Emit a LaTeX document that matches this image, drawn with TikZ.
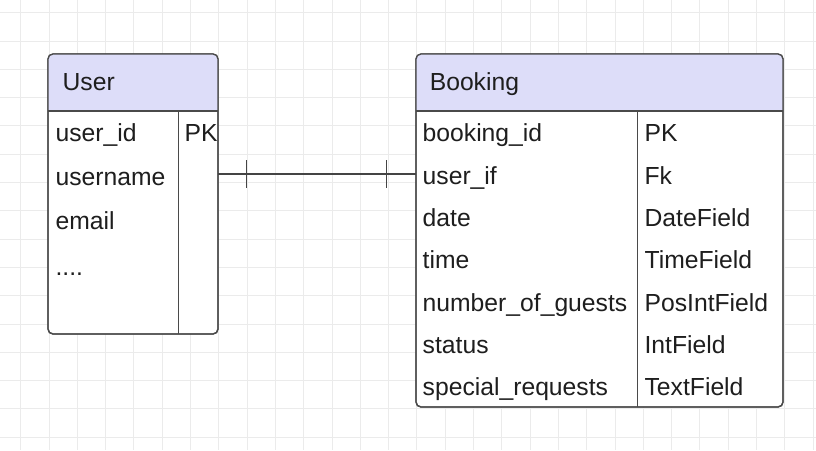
\documentclass[tikz,border=0pt]{standalone}
\usepackage{fontspec}
\setmainfont{Liberation Sans}
\definecolor{gridc}{HTML}{EBEBEB}
\definecolor{bordc}{HTML}{4A4A4A}
\definecolor{hdrc}{HTML}{DDDDF9}
\definecolor{txtc}{HTML}{1E1E1E}
\definecolor{linec}{HTML}{444444}
\begin{document}
\begin{tikzpicture}[x=1pt,y=-1pt,
  gridline/.style={draw=gridc,line width=1pt},
  tablebox/.style={rectangle,rounded corners=5pt,draw=bordc,line width=1.3pt,fill=white,inner sep=0pt,outer sep=0pt},
  bord/.style={draw=bordc,line width=1.3pt},
  txt/.style={anchor=base west,inner sep=0pt,outer sep=0pt,text=txtc,font=\fontsize{24.7}{28}\selectfont},
  rel/.style={draw=linec,line width=1.3pt}]
\useasboundingbox (0,0) rectangle (816,450);
\fill[white] (0,0) rectangle (816,450);
\foreach \i in {0,...,28} \draw[gridline] (20.7+28.3*\i,0) -- (20.7+28.3*\i,450);
\foreach \i in {0,...,15} \draw[gridline] (0,12.7+28.3*\i) -- (816,12.7+28.3*\i);

% User table
\node[tablebox,minimum width=170pt,minimum height=280pt] (user) at (133,194) {};
\begin{scope}
\clip[rounded corners=5pt] (user.north west) rectangle (user.south east);
\fill[hdrc] (user.north west) rectangle (user.east |- 0,111);
\end{scope}
\draw[bord,rounded corners=5pt] (user.north west) rectangle (user.south east);
\draw[bord] (user.west |- 0,111) -- (user.east |- 0,111);
\coordinate (ucol) at (178.3,111);
\draw[bord] (ucol) -- (ucol |- user.south);

\node[txt] (uh) at (62.6,90.7) {User};
\node[txt] (u1) at (55.6,141.7) {user\_id};
\node[txt] (u2) at (55.6,185.5) {username};
\node[txt] (u3) at (55.6,229.5) {email};
\node[txt] (u4) at (55.6,275) {....};
\node[txt] (u1t) at (184.6,141.7) {PK};

% Booking table
\node[tablebox,minimum width=367pt,minimum height=353pt] (booking) at (599.5,230.5) {};
\begin{scope}
\clip[rounded corners=5pt] (booking.north west) rectangle (booking.south east);
\fill[hdrc] (booking.north west) rectangle (booking.east |- 0,111);
\end{scope}
\draw[bord,rounded corners=5pt] (booking.north west) rectangle (booking.south east);
\draw[bord] (booking.west |- 0,111) -- (booking.east |- 0,111);
\coordinate (bcol) at (637.7,111);
\draw[bord] (bcol) -- (bcol |- booking.south);

\node[txt] (bh) at (429.8,90.7) {Booking};
\node[txt] (b1) at (422.7,141.7) {booking\_id};
\node[txt] (b2) at (422.7,184) {user\_if};
\node[txt] (b3) at (422.7,226.3) {date};
\node[txt] (b4) at (422.7,268.6) {time};
\node[txt] (b5) at (422.7,311) {number\_of\_guests};
\node[txt] (b6) at (422.7,353.3) {status};
\node[txt] (b7) at (422.7,395.6) {special\_requests};
\node[txt] (t1) at (644.6,141.7) {PK};
\node[txt] (t2) at (644.6,184) {Fk};
\node[txt] (t3) at (644.6,226.3) {DateField};
\node[txt] (t4) at (644.6,268.6) {TimeField};
\node[txt] (t5) at (644.6,311) {PosIntField};
\node[txt] (t6) at (644.6,353.3) {IntField};
\node[txt] (t7) at (644.6,395.6) {TextField};

% relationship
\coordinate (ry) at (0,174);
\draw[rel] (user.east |- ry) -- (booking.west |- ry);
\coordinate (k1) at (246.7,174);
\coordinate (k2) at (386.7,174);
\draw[rel] ([yshift=14pt]k1) -- ([yshift=-14pt]k1);
\draw[rel] ([yshift=14pt]k2) -- ([yshift=-14pt]k2);
\end{tikzpicture}
\end{document}
